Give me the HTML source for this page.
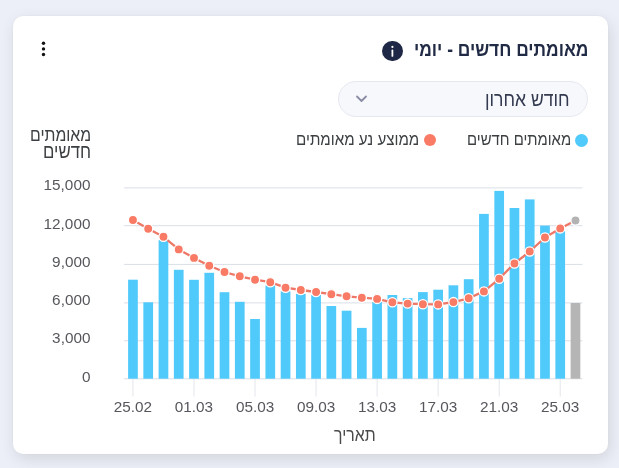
<!DOCTYPE html>
<html lang="he"><head><meta charset="utf-8">
<style>
html,body{margin:0;padding:0;}
body{width:619px;height:468px;background:#eceff7;position:relative;overflow:hidden;font-family:"Liberation Sans",sans-serif;}
.card{position:absolute;left:13px;top:16px;width:595px;height:438px;background:#fff;border-radius:10px;box-shadow:2px 5px 16px rgba(0,0,0,0.11), 0 0 2px rgba(0,0,0,0.05);}
.t{position:absolute;will-change:transform;white-space:nowrap;line-height:20px;direction:rtl;transform-origin:50% 50%;font-family:"Liberation Sans",sans-serif;}
.info{position:absolute;left:382.2px;top:41.1px;width:20.4px;height:20.4px;border-radius:50%;background:#1f2746;}
.dd{position:absolute;left:338px;top:81px;width:248px;height:34px;border:1px solid #e6e8f0;border-radius:18px;background:#f7f8fc;}
.dot{position:absolute;border-radius:50%;}
svg{position:absolute;left:0;top:0;will-change:transform;}
.ax{font-family:"Liberation Sans",sans-serif;font-size:15.3px;fill:#55575c;}
</style></head><body>
<div class="card"></div>
<div class="t" style="right:30.23px;top:39.38px;font-size:17.37px;transform:scaleY(1.130);color:#222b45;font-weight:bold;">מאומתים חדשים - יומי</div>
<div class="info"></div>
<div class="dd"></div>
<div class="t" style="right:49.41px;top:88.60px;font-size:17.57px;transform:scaleY(1.120);color:#343a4f;">חודש אחרון</div>
<div class="t" style="right:47.98px;top:128.92px;font-size:14.86px;transform:scaleY(1.150);color:#3c4043;">מאומתים חדשים</div>
<div class="dot" style="left:574.8px;top:133.5px;width:13px;height:13px;background:#50c9fb"></div>
<div class="t" style="right:199.44px;top:129.24px;font-size:15.15px;transform:scaleY(1.150);color:#3c4043;">ממוצע נע מאומתים</div>
<div class="dot" style="left:424px;top:134px;width:12px;height:12px;background:#f97b65"></div>
<div class="t" style="right:527.98px;top:124.72px;font-size:15.81px;transform:scaleY(1.170);color:#3c4043;">מאומתים</div>
<div class="t" style="right:527.83px;top:142.20px;font-size:16.79px;transform:scaleY(1.170);color:#3c4043;">חדשים</div>
<div class="t" style="right:243.75px;top:424.98px;font-size:15.83px;transform:scaleY(1.150);color:#4a4a4a;">תאריך</div>
<svg width="619" height="468" viewBox="0 0 619 468">
<circle cx="43.5" cy="43.3" r="1.7" fill="#111"/>
<circle cx="43.5" cy="48.9" r="1.7" fill="#111"/>
<circle cx="43.5" cy="54.5" r="1.7" fill="#111"/>
<circle cx="392.4" cy="46.9" r="1.1" fill="#fff"/>
<rect x="391.5" y="49.6" width="1.8" height="7.2" rx="0.9" fill="#fff"/>
<path d="M357,96.5 L361.5,101 L366,96.5" fill="none" stroke="#8a8ca6" stroke-width="1.8" stroke-linecap="round" stroke-linejoin="round"/>
<line x1="124" x2="582.5" y1="378.80" y2="378.80" stroke="#d9dfe7" stroke-width="1"/>
<line x1="124" x2="582.5" y1="340.80" y2="340.80" stroke="#d9dfe7" stroke-width="1"/>
<line x1="124" x2="582.5" y1="302.90" y2="302.90" stroke="#d9dfe7" stroke-width="1"/>
<line x1="124" x2="582.5" y1="264.40" y2="264.40" stroke="#d9dfe7" stroke-width="1"/>
<line x1="124" x2="582.5" y1="225.70" y2="225.70" stroke="#d9dfe7" stroke-width="1"/>
<line x1="124" x2="582.5" y1="187.90" y2="187.90" stroke="#d9dfe7" stroke-width="1"/>
<text transform="translate(90.4,382.10) scale(1.0,1.0)" text-anchor="end" class="ax">0</text>
<text transform="translate(90.4,343.30) scale(1.0,1.0)" text-anchor="end" class="ax">3,000</text>
<text transform="translate(90.4,305.30) scale(1.0,1.0)" text-anchor="end" class="ax">6,000</text>
<text transform="translate(90.4,267.30) scale(1.0,1.0)" text-anchor="end" class="ax">9,000</text>
<text transform="translate(90.4,229.30) scale(1.0,1.0)" text-anchor="end" class="ax">12,000</text>
<text transform="translate(90.4,190.30) scale(1.0,1.0)" text-anchor="end" class="ax">15,000</text>
<line x1="132.95" x2="132.95" y1="378.70" y2="396.5" stroke="#e3e6ec" stroke-width="1"/>
<text transform="translate(132.95,412.3) scale(1.0,1.0)" text-anchor="middle" class="ax">25.02</text>
<line x1="193.99" x2="193.99" y1="378.70" y2="396.5" stroke="#e3e6ec" stroke-width="1"/>
<text transform="translate(193.99,412.3) scale(1.0,1.0)" text-anchor="middle" class="ax">01.03</text>
<line x1="255.03" x2="255.03" y1="378.70" y2="396.5" stroke="#e3e6ec" stroke-width="1"/>
<text transform="translate(255.03,412.3) scale(1.0,1.0)" text-anchor="middle" class="ax">05.03</text>
<line x1="316.07" x2="316.07" y1="378.70" y2="396.5" stroke="#e3e6ec" stroke-width="1"/>
<text transform="translate(316.07,412.3) scale(1.0,1.0)" text-anchor="middle" class="ax">09.03</text>
<line x1="377.11" x2="377.11" y1="378.70" y2="396.5" stroke="#e3e6ec" stroke-width="1"/>
<text transform="translate(377.11,412.3) scale(1.0,1.0)" text-anchor="middle" class="ax">13.03</text>
<line x1="438.15" x2="438.15" y1="378.70" y2="396.5" stroke="#e3e6ec" stroke-width="1"/>
<text transform="translate(438.15,412.3) scale(1.0,1.0)" text-anchor="middle" class="ax">17.03</text>
<line x1="499.19" x2="499.19" y1="378.70" y2="396.5" stroke="#e3e6ec" stroke-width="1"/>
<text transform="translate(499.19,412.3) scale(1.0,1.0)" text-anchor="middle" class="ax">21.03</text>
<line x1="560.23" x2="560.23" y1="378.70" y2="396.5" stroke="#e3e6ec" stroke-width="1"/>
<text transform="translate(560.23,412.3) scale(1.0,1.0)" text-anchor="middle" class="ax">25.03</text>
<rect x="128.10" y="279.70" width="9.7" height="99.00" fill="#50c9fb"/>
<rect x="143.36" y="302.30" width="9.7" height="76.40" fill="#50c9fb"/>
<rect x="158.62" y="240.10" width="9.7" height="138.60" fill="#50c9fb"/>
<rect x="173.88" y="269.80" width="9.7" height="108.90" fill="#50c9fb"/>
<rect x="189.14" y="279.80" width="9.7" height="98.90" fill="#50c9fb"/>
<rect x="204.40" y="272.80" width="9.7" height="105.90" fill="#50c9fb"/>
<rect x="219.66" y="292.20" width="9.7" height="86.50" fill="#50c9fb"/>
<rect x="234.92" y="301.80" width="9.7" height="76.90" fill="#50c9fb"/>
<rect x="250.18" y="319.00" width="9.7" height="59.70" fill="#50c9fb"/>
<rect x="265.44" y="285.50" width="9.7" height="93.20" fill="#50c9fb"/>
<rect x="280.70" y="291.30" width="9.7" height="87.40" fill="#50c9fb"/>
<rect x="295.96" y="293.90" width="9.7" height="84.80" fill="#50c9fb"/>
<rect x="311.22" y="295.00" width="9.7" height="83.70" fill="#50c9fb"/>
<rect x="326.48" y="306.00" width="9.7" height="72.70" fill="#50c9fb"/>
<rect x="341.74" y="310.70" width="9.7" height="68.00" fill="#50c9fb"/>
<rect x="357.00" y="327.90" width="9.7" height="50.80" fill="#50c9fb"/>
<rect x="372.26" y="302.00" width="9.7" height="76.70" fill="#50c9fb"/>
<rect x="387.52" y="295.00" width="9.7" height="83.70" fill="#50c9fb"/>
<rect x="402.78" y="298.10" width="9.7" height="80.60" fill="#50c9fb"/>
<rect x="418.04" y="292.10" width="9.7" height="86.60" fill="#50c9fb"/>
<rect x="433.30" y="289.70" width="9.7" height="89.00" fill="#50c9fb"/>
<rect x="448.56" y="285.30" width="9.7" height="93.40" fill="#50c9fb"/>
<rect x="463.82" y="279.20" width="9.7" height="99.50" fill="#50c9fb"/>
<rect x="479.08" y="213.90" width="9.7" height="164.80" fill="#50c9fb"/>
<rect x="494.34" y="190.90" width="9.7" height="187.80" fill="#50c9fb"/>
<rect x="509.60" y="208.00" width="9.7" height="170.70" fill="#50c9fb"/>
<rect x="524.86" y="199.40" width="9.7" height="179.30" fill="#50c9fb"/>
<rect x="540.12" y="225.60" width="9.7" height="153.10" fill="#50c9fb"/>
<rect x="555.38" y="231.00" width="9.7" height="147.70" fill="#50c9fb"/>
<rect x="570.64" y="303.00" width="9.7" height="75.70" fill="#b5b5b5"/>
<path d="M132.95,220.00 L148.21,228.80 L163.47,236.80 L178.73,249.40 L193.99,257.90 L209.25,265.80 L224.51,272.00 L239.77,276.30 L255.03,279.70 L270.29,282.20 L285.55,287.70 L300.81,290.00 L316.07,292.00 L331.33,294.20 L346.59,296.30 L361.85,297.70 L377.11,298.90 L392.37,302.30 L407.63,303.60 L422.89,304.20 L438.15,304.40 L453.41,302.10 L468.67,298.30 L483.93,291.40 L499.19,278.80 L514.45,263.50 L529.71,251.50 L544.97,237.50 L560.23,228.40 L575.49,220.50" fill="none" stroke="#ee7868" stroke-width="2.3" stroke-linejoin="round"/>
<circle cx="132.95" cy="220.00" r="4.6" fill="#f97b65" stroke="#fff" stroke-width="1.3"/>
<circle cx="148.21" cy="228.80" r="4.6" fill="#f97b65" stroke="#fff" stroke-width="1.3"/>
<circle cx="163.47" cy="236.80" r="4.6" fill="#f97b65" stroke="#fff" stroke-width="1.3"/>
<circle cx="178.73" cy="249.40" r="4.6" fill="#f97b65" stroke="#fff" stroke-width="1.3"/>
<circle cx="193.99" cy="257.90" r="4.6" fill="#f97b65" stroke="#fff" stroke-width="1.3"/>
<circle cx="209.25" cy="265.80" r="4.6" fill="#f97b65" stroke="#fff" stroke-width="1.3"/>
<circle cx="224.51" cy="272.00" r="4.6" fill="#f97b65" stroke="#fff" stroke-width="1.3"/>
<circle cx="239.77" cy="276.30" r="4.6" fill="#f97b65" stroke="#fff" stroke-width="1.3"/>
<circle cx="255.03" cy="279.70" r="4.6" fill="#f97b65" stroke="#fff" stroke-width="1.3"/>
<circle cx="270.29" cy="282.20" r="4.6" fill="#f97b65" stroke="#fff" stroke-width="1.3"/>
<circle cx="285.55" cy="287.70" r="4.6" fill="#f97b65" stroke="#fff" stroke-width="1.3"/>
<circle cx="300.81" cy="290.00" r="4.6" fill="#f97b65" stroke="#fff" stroke-width="1.3"/>
<circle cx="316.07" cy="292.00" r="4.6" fill="#f97b65" stroke="#fff" stroke-width="1.3"/>
<circle cx="331.33" cy="294.20" r="4.6" fill="#f97b65" stroke="#fff" stroke-width="1.3"/>
<circle cx="346.59" cy="296.30" r="4.6" fill="#f97b65" stroke="#fff" stroke-width="1.3"/>
<circle cx="361.85" cy="297.70" r="4.6" fill="#f97b65" stroke="#fff" stroke-width="1.3"/>
<circle cx="377.11" cy="298.90" r="4.6" fill="#f97b65" stroke="#fff" stroke-width="1.3"/>
<circle cx="392.37" cy="302.30" r="4.6" fill="#f97b65" stroke="#fff" stroke-width="1.3"/>
<circle cx="407.63" cy="303.60" r="4.6" fill="#f97b65" stroke="#fff" stroke-width="1.3"/>
<circle cx="422.89" cy="304.20" r="4.6" fill="#f97b65" stroke="#fff" stroke-width="1.3"/>
<circle cx="438.15" cy="304.40" r="4.6" fill="#f97b65" stroke="#fff" stroke-width="1.3"/>
<circle cx="453.41" cy="302.10" r="4.6" fill="#f97b65" stroke="#fff" stroke-width="1.3"/>
<circle cx="468.67" cy="298.30" r="4.6" fill="#f97b65" stroke="#fff" stroke-width="1.3"/>
<circle cx="483.93" cy="291.40" r="4.6" fill="#f97b65" stroke="#fff" stroke-width="1.3"/>
<circle cx="499.19" cy="278.80" r="4.6" fill="#f97b65" stroke="#fff" stroke-width="1.3"/>
<circle cx="514.45" cy="263.50" r="4.6" fill="#f97b65" stroke="#fff" stroke-width="1.3"/>
<circle cx="529.71" cy="251.50" r="4.6" fill="#f97b65" stroke="#fff" stroke-width="1.3"/>
<circle cx="544.97" cy="237.50" r="4.6" fill="#f97b65" stroke="#fff" stroke-width="1.3"/>
<circle cx="560.23" cy="228.40" r="4.6" fill="#f97b65" stroke="#fff" stroke-width="1.3"/>
<circle cx="575.49" cy="220.50" r="4.6" fill="#b3b3b3" stroke="#fff" stroke-width="1.3"/>
</svg>
</body></html>
